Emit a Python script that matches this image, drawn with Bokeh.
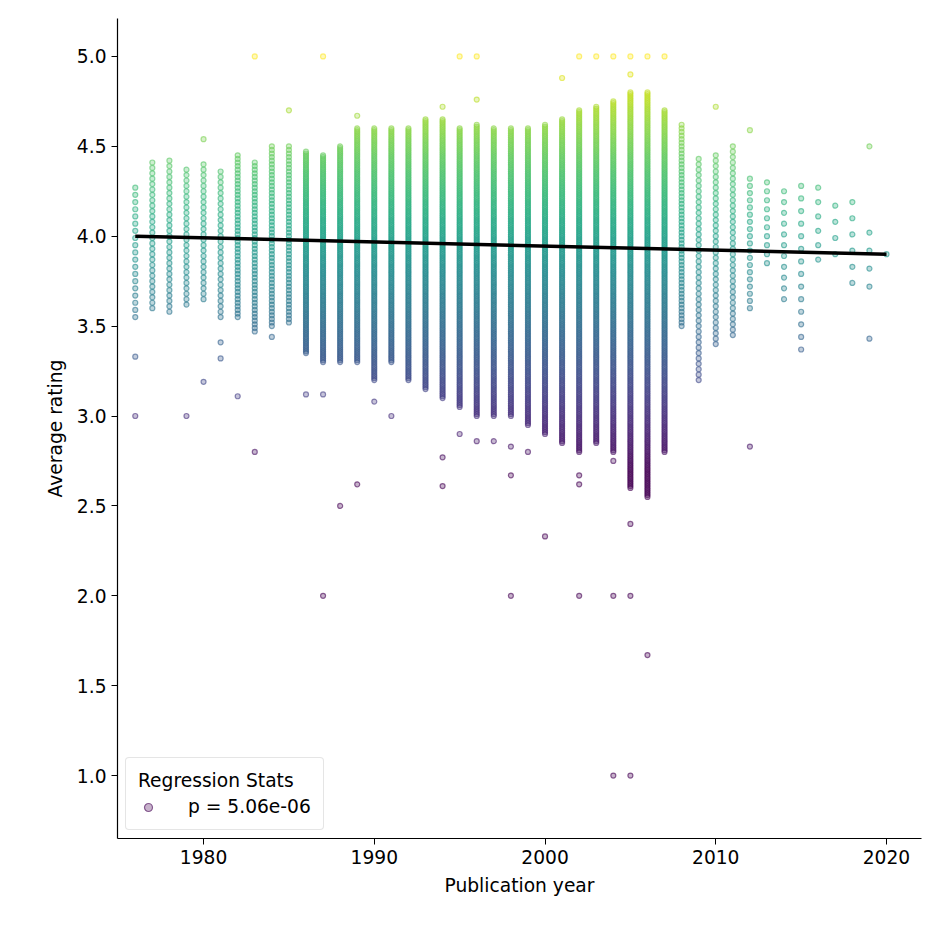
import numpy as np
from bokeh.plotting import figure
from bokeh.models import Range1d, LinearColorMapper, Legend, LegendItem, NumeralTickFormatter
from bokeh.palettes import Viridis256
from bokeh.embed import file_html
from bokeh.resources import INLINE

years = list(range(1976, 2021))
# dense rating ranges per year (low, high, step)
low  = [3.55,3.60,3.58,3.62,3.65,3.55,3.55,3.47,3.50,3.52,3.35,3.30,3.30,3.30,3.20,3.30,3.20,3.15,3.10,3.05,3.00,3.00,3.00,2.95,2.90,2.85,2.80,2.85,2.80,2.60,2.55,2.80,3.50,3.20,3.40,3.45,3.60,3.85,3.65,3.37,3.87,3.90,3.74,3.72,3.90]
high = [4.28,4.42,4.42,4.37,4.40,4.37,4.45,4.42,4.50,4.50,4.47,4.45,4.50,4.60,4.60,4.60,4.60,4.65,4.65,4.60,4.62,4.60,4.60,4.60,4.62,4.65,4.70,4.72,4.75,4.80,4.80,4.70,4.62,4.45,4.47,4.50,4.35,4.31,4.30,4.30,4.28,4.22,4.27,4.04,3.90]
step = [0.04,0.03,0.03,0.03,0.03,0.03,0.02,0.02,0.02,0.02,0.01,0.01,0.01,0.01,0.01,0.01,0.01,0.01,0.01,0.01,0.01,0.01,0.01,0.01,0.01,0.01,0.01,0.01,0.01,0.01,0.01,0.01,0.02,0.03,0.03,0.03,0.04,0.05,0.06,0.07,0.08,0.09,0.09,0.1,0.1]
outlier_years = [1976,1976,1979,1980,1980,1981,1981,1982,1983,1983,1984,1985,1986,1987,1987,1987,1988,1989,1989,1990,1991,1994,1994,1994,1995,1995,1996,1996,1996,1997,1998,1998,1998,1999,2000,2001,2002,2002,2002,2002,2003,2004,2004,2004,2004,2005,2005,2005,2005,2005,2006,2006,2007,2010,2012,2012,2019,2019]
outlier_vals  = [3.33,3.00,3.00,4.54,3.19,3.32,3.41,3.11,2.80,5.00,3.44,4.70,3.12,3.12,2.00,5.00,2.50,2.62,4.67,3.08,3.00,2.77,2.61,4.72,2.90,5.00,2.86,4.76,5.00,2.86,2.83,2.67,2.00,2.80,2.33,4.88,2.67,2.62,2.00,5.00,5.00,2.75,2.00,1.00,5.00,2.40,2.00,1.00,5.00,4.90,1.67,5.00,5.00,4.72,2.83,4.59,3.43,4.50]
# regression line
fit_x = [1976, 2020]
fit_y = [4.00, 3.90]

xs, ys = [], []
for y, lo, hi, st in zip(years, low, high, step):
    r = np.round(np.arange(lo, hi + 1e-9, st), 2)
    xs += [y] * len(r); ys += list(r)
xs += outlier_years; ys += outlier_vals
purple_idx = ys.index(1.0)

p = figure(width=932, height=932, output_backend="svg", toolbar_location=None,
           x_range=Range1d(1974.96, 2022.05), y_range=Range1d(0.65, 5.211),
           min_border_left=117, min_border_top=18, min_border_right=11, min_border_bottom=94)
p.outline_line_color = None
p.grid.grid_line_color = None
mapper = LinearColorMapper(palette=Viridis256, low=2.7, high=5.0)
r = p.scatter(xs, ys, size=5, fill_color={'field': 'y', 'transform': mapper},
              line_color={'field': 'y', 'transform': mapper}, fill_alpha=0.3, line_alpha=0.6,
              line_width=1.2)
p.line(fit_x, fit_y, line_color="black", line_width=3.5)
p.xaxis.ticker = [1980, 1990, 2000, 2010, 2020]
p.yaxis.ticker = [1.0, 1.5, 2.0, 2.5, 3.0, 3.5, 4.0, 4.5, 5.0]
p.yaxis.formatter = NumeralTickFormatter(format="0.0")
p.xaxis.axis_label = "Publication year"
p.yaxis.axis_label = "Average rating"
for ax in (p.xaxis, p.yaxis):
    ax.axis_label_text_font = "DejaVu Sans"
    ax.major_label_text_font = "DejaVu Sans"
    ax.axis_label_text_font_size = "14pt"
    ax.major_label_text_font_size = "14pt"
    ax.axis_label_text_font_style = "normal"
    ax.axis_label_text_color = "black"
    ax.major_label_text_color = "black"
    ax.minor_tick_line_color = None
    ax.major_tick_out = 6
    ax.major_tick_in = 0
    ax.axis_line_width = 1.2
    ax.axis_label_standoff = 8
legend = Legend(items=[LegendItem(label="p = 5.06e-06", renderers=[r], index=purple_idx)],
                title="Regression Stats", location="bottom_left")
legend.title_text_font = "DejaVu Sans"; legend.title_text_font_size = "14pt"
legend.title_text_font_style = "normal"; legend.title_text_color = "black"
legend.label_text_font = "DejaVu Sans"; legend.label_text_font_size = "14pt"
legend.label_text_color = "black"
legend.border_line_color = "#cccccc"; legend.border_line_width = 1.5
legend.border_radius = 4
legend.margin = 8; legend.padding = 12; legend.spacing = 4
legend.label_standoff = 30
p.add_layout(legend)
open("out.html", "w").write(file_html(p, INLINE))
